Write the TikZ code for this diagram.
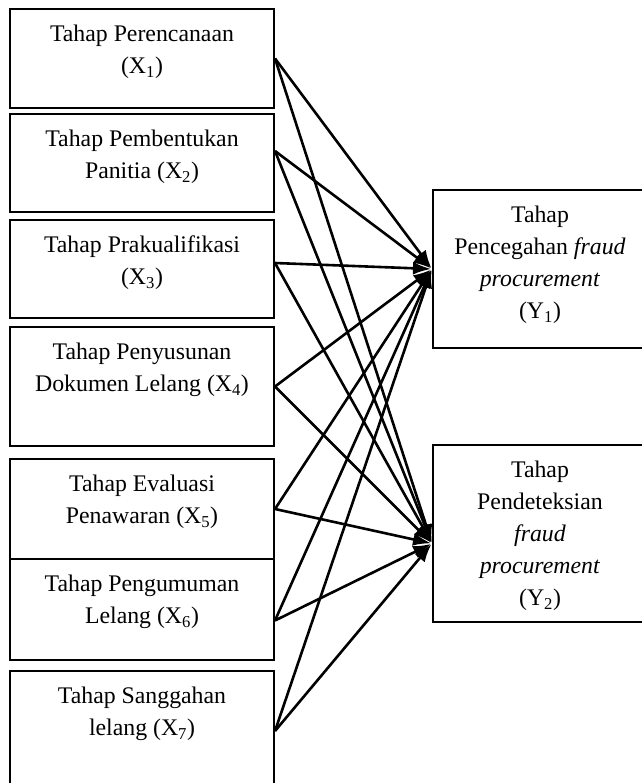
\documentclass[tikz,border=0pt]{standalone}
\usepackage{fontspec}
\setmainfont{Liberation Serif}
\usetikzlibrary{positioning}
\usetikzlibrary{arrows.meta}
\tikzset{stage/.style={draw, line width=2pt, anchor=north west, inner sep=0pt, minimum width=264pt, minimum height=#1},
  stagetext/.style={anchor=north, align=center, inner sep=0pt, yshift=-17pt, font=\fontsize{23.8}{32}\selectfont},
  post/.style={->,shorten >=1pt,>={Latex[length=18pt,width=13pt]},line width=2.6pt}}

\begin{document}
\begin{tikzpicture}[x=1pt, y=-1pt]
  \useasboundingbox (0,0) rectangle (641,783);

  % tahap X
  \node (x1) at (9,8) [stage=99pt, label={[stagetext]north:{Tahap Perencanaan\\(X\textsubscript{1})}}] {};
  \node (x2) at (9,113) [stage=98pt, label={[stagetext]north:{Tahap Pembentukan\\Panitia (X\textsubscript{2})}}] {};
  \node (x3) at (9,219) [stage=98pt, label={[stagetext]north:{Tahap Prakualifikasi\\(X\textsubscript{3})}}] {};
  \node (x4) at (9,326) [stage=119pt, label={[stagetext]north:{Tahap Penyusunan\\Dokumen Lelang (X\textsubscript{4})}}] {};
  \node (x5) at (9,458) [stage=100pt, label={[stagetext]north:{Tahap Evaluasi\\Penawaran (X\textsubscript{5})}}] {};
  \node (x6) at (9,558) [stage=101pt, label={[stagetext]north:{Tahap Pengumuman\\Lelang (X\textsubscript{6})}}] {};
  \node (x7) at (9,670) [stage=120pt, label={[stagetext]north:{Tahap Sanggahan\\lelang (X\textsubscript{7})}}] {};

  % tahap Y
  \node (y1) at (432,189) [stage=158pt, minimum width=214pt, label={[stagetext]north:{Tahap\\Pencegahan \textit{fraud}\\\textit{procurement}\\(Y\textsubscript{1})}}] {};
  \node (y2) at (432,444) [stage=177pt, minimum width=214pt, label={[stagetext]north:{Tahap\\Pendeteksian\\\textit{fraud}\\\textit{procurement}\\(Y\textsubscript{2})}}] {};

  % arrows
  \path[post] (x1.east) edge (y1.west) edge ([yshift=-10pt]y2.west);
  \path[post] ([yshift=12pt]x2.east) edge (y1.west) edge ([yshift=-10pt]y2.west);
  \path[post] ([yshift=6pt]x3.east) edge (y1.west) edge ([yshift=-10pt]y2.west);
  \path[post] (x4.east) edge (y1.west) edge ([yshift=-10pt]y2.west);
  \path[post] (x5.east) edge (y1.west) edge ([yshift=-10pt]y2.west);
  \path[post] ([yshift=-11pt]x6.east) edge (y1.west) edge ([yshift=-10pt]y2.west);
  \path[post] (x7.east) edge (y1.west) edge ([yshift=-10pt]y2.west);

\end{tikzpicture}
\end{document}
